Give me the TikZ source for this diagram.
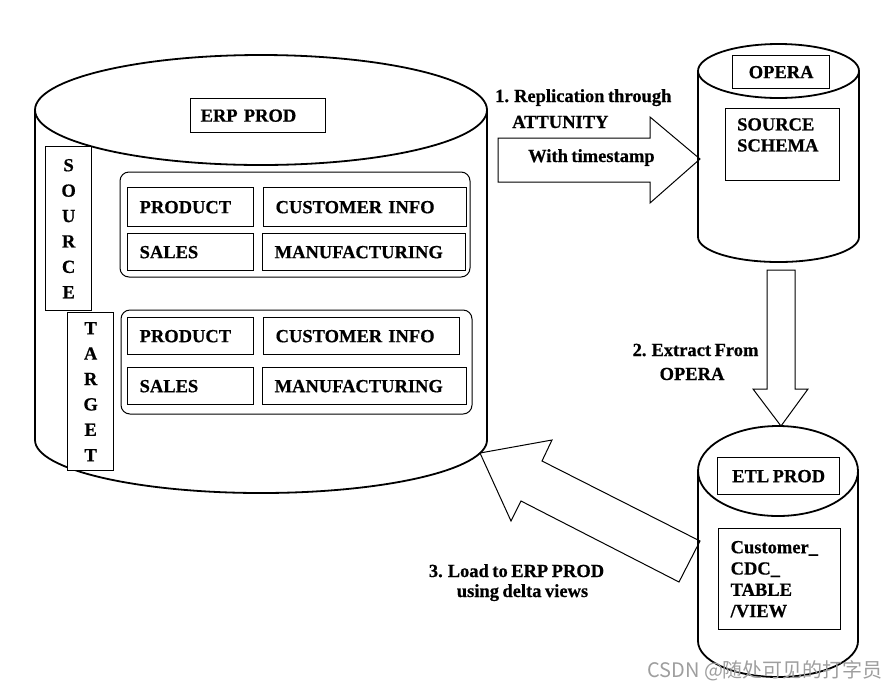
\documentclass[tikz,border=0pt]{standalone}
\usepackage{fontspec}
\setmainfont{Liberation Serif}[WordSpace=0.75,BoldFeatures={FakeBold=0.6}]
\newfontfamily\cjkfont{Noto Sans CJK SC}
\usetikzlibrary{positioning}
\tikzset{
  cyl/.style={line width=1.8pt},
  grp/.style={draw,line width=1pt,rounded corners=9pt},
  box/.style={rectangle,draw,line width=1.3pt,fill=white,anchor=north west,inner sep=0pt,font=\bfseries\fontsize{18.5}{21}\selectfont},
  cell/.style={box,align=left,inner xsep=12pt,text width=#1},
  lettbox/.style={box,align=center,minimum width=46,font=\bfseries\fontsize{18.5}{25.4}\selectfont},
  blockarrow/.style={draw,line width=1pt,line join=miter},
  lbl/.style={inner sep=0pt,font=\bfseries\fontsize{18.5}{21}\selectfont},
  wmark/.style={inner sep=0pt,text=black!38,font=\cjkfont\fontsize{20}{22}\selectfont}
}

\begin{document}
\begin{tikzpicture}[x=1pt,y=-1pt]
  \useasboundingbox (0,0) rectangle (893,689);

  % arrows
  \draw[blockarrow] (498,138) -- (650,138) -- (650,117) -- (700,159) -- (650,203) -- (650,182) -- (498,182) -- cycle;
  \draw[blockarrow] (767,270) -- (795,270) -- (795,389) -- (808,389) -- (781,426) -- (753,389) -- (767,389) -- cycle;
  \draw[blockarrow] (700,541) -- (542,461) -- (552,440) -- (480,453) -- (511,521) -- (521,501) -- (679,582) -- cycle;

  % ERP PROD
  \draw[cyl] (35,110) -- (35,440) arc[start angle=180,end angle=0,x radius=226,y radius=53] -- (487,110);
  \draw[cyl] (261,110) ellipse[x radius=226,y radius=55];
  \node[cell=115,inner xsep=10pt,minimum height=34] (erp) at (190,98) {ERP PROD};
  \node[lettbox,minimum height=164] (src) at (45,146) {S\\O\\U\\R\\C\\E};
  \node[lettbox,minimum height=158] (tgt) at (67,312) {T\\A\\R\\G\\E\\T};

  \draw[grp] (120,172) rectangle (470,277);
  \node[cell=102,minimum height=39] (prodA) at (127,187) {PRODUCT};
  \node[cell=179,minimum height=39] (custA) at (263,187) {CUSTOMER INFO};
  \node[cell=102,minimum height=37] (salesA) at (127,233) {SALES};
  \node[cell=179,minimum height=37] (manA) at (262,233) {MANUFACTURING};

  \draw[grp] (121,310) rectangle (472,414);
  \node[cell=102,minimum height=37] (prodB) at (127,317) {PRODUCT};
  \node[cell=172,minimum height=37] (custB) at (263,317) {CUSTOMER INFO};
  \node[cell=102,minimum height=37] (salesB) at (127,367) {SALES};
  \node[cell=180,minimum height=37] (manB) at (262,367) {MANUFACTURING};

  % OPERA
  \draw[cyl] (698,71) -- (698,237) arc[start angle=180,end angle=0,x radius=80.5,y radius=25] -- (859,71);
  \draw[cyl] (778.5,71) ellipse[x radius=80.5,y radius=27];
  \node[box,minimum width=97,minimum height=33] (opera) at (732,55) {OPERA};
  \node[box,minimum width=114,minimum height=72] (schema) at (725,108) {};
  \node[lbl,anchor=north west,align=left] (schematxt) at (737,118) {SOURCE\\SCHEMA};

  % ETL PROD
  \draw[cyl] (698,471) -- (698,641) arc[start angle=180,end angle=0,x radius=80,y radius=36] -- (858,471);
  \draw[cyl] (778,471) ellipse[x radius=80,y radius=45];
  \node[box,minimum width=122,minimum height=37] (etl) at (717,457) {ETL PROD};
  \node[cell=98,minimum height=101,font=\bfseries\fontsize{18.5}{21.3}\selectfont] (cdc) at (718,528) {Customer\_\\CDC\_\\TABLE\\/VIEW};

  % labels
  \node[lbl,anchor=base west] (rep) at (495,102) {1. Replication through};
  \node[lbl,anchor=base west] (att) at (512,128) {ATTUNITY};
  \node[lbl,anchor=base west] (stamp) at (528,162) {With timestamp};
  \node[lbl,anchor=base] (extA) at (695.5,356) {2. Extract From};
  \node[lbl,anchor=base] (extB) at (692,380) {OPERA};
  \node[lbl,anchor=base] (loadA) at (516.5,577) {3. Load to ERP PROD};
  \node[lbl,anchor=base] (loadB) at (522.5,597) {using delta views};

  \node[wmark,anchor=base west] (wm) at (647,677) {CSDN @随处可见的打字员};
\end{tikzpicture}
\end{document}
